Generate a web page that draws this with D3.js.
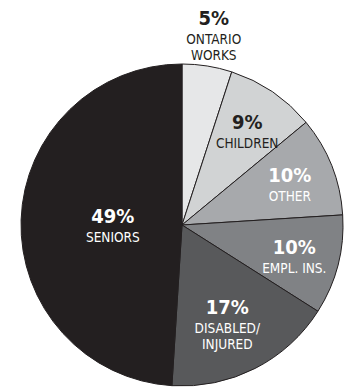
<!DOCTYPE html>
<html lang="en">
<head>
    <meta charset="UTF-8">
    <title>Pie - share by group</title>
    <style>
        body {
            margin: 0;
            background: #fff;
        }
        svg {
            display: block;
        }
        text {
            font-family: "DejaVu Sans Condensed", "Liberation Sans Narrow", sans-serif;
            font-stretch: condensed;
        }
    </style>
</head>
<body>
    <div class="box"></div>
    <script src="https://d3js.org/d3.v7.min.js"></script>
    <script>
        const width = 347;
        const height = 387;

        // data
        const categories = ['ONTARIO|WORKS', 'CHILDREN', 'OTHER', 'EMPL. INS.', 'DISABLED/|INJURED', 'SENIORS'];
        const shares = [5, 9, 10, 10, 17, 49];
        const fills = ['#e6e7e8', '#d1d3d4', '#a7a9ac', '#808285', '#58595b', '#231f20'];
        const textColors = ['#231f20', '#231f20', '#fff', '#fff', '#fff', '#fff'];

        // label distance from centre, as part of the radius
        const labelRadius = [1.26, 0.72, 0.72, 0.72, 0.62, 0.43];

        const cx = 182, cy = 225, r = 161;

        const svg = d3.select('.box')
            .append('svg')
            .attr('width', width)
            .attr('height', height);

        const pie = d3.pie().sort(null).value(d => d);
        const arcs = pie(shares);
        const arc = d3.arc().innerRadius(0).outerRadius(r);

        const g = svg.append('g').attr('transform', `translate(${cx}, ${cy})`);

        g.selectAll('path')
            .data(arcs)
            .enter().append('path')
            .attr('d', arc)
            .attr('fill', (d, i) => fills[i])
            .attr('stroke', '#231f20')
            .attr('stroke-width', 1);

        const labels = g.selectAll('g.label')
            .data(arcs)
            .enter().append('g')
            .attr('class', 'label')
            .attr('transform', (d, i) => {
                const lr = r * labelRadius[i];
                const p = d3.arc().innerRadius(lr).outerRadius(lr).centroid(d);
                return `translate(${p[0]}, ${p[1]})`;
            });

        labels.append('text')
            .attr('text-anchor', 'middle')
            .attr('font-size', 20)
            .attr('font-weight', 'bold')
            .attr('fill', (d, i) => textColors[i])
            .text(d => d.data + '%');

        labels.each(function (d, i) {
            const lines = categories[i].split('|');
            d3.select(this).selectAll('text.cat')
                .data(lines)
                .enter().append('text')
                .attr('class', 'cat')
                .attr('text-anchor', 'middle')
                .attr('font-size', 13.5)
                .attr('y', (t, j) => 19 + j * 16)
                .attr('fill', textColors[i])
                .text(t => t);
        });
    </script>
</body>
</html>
